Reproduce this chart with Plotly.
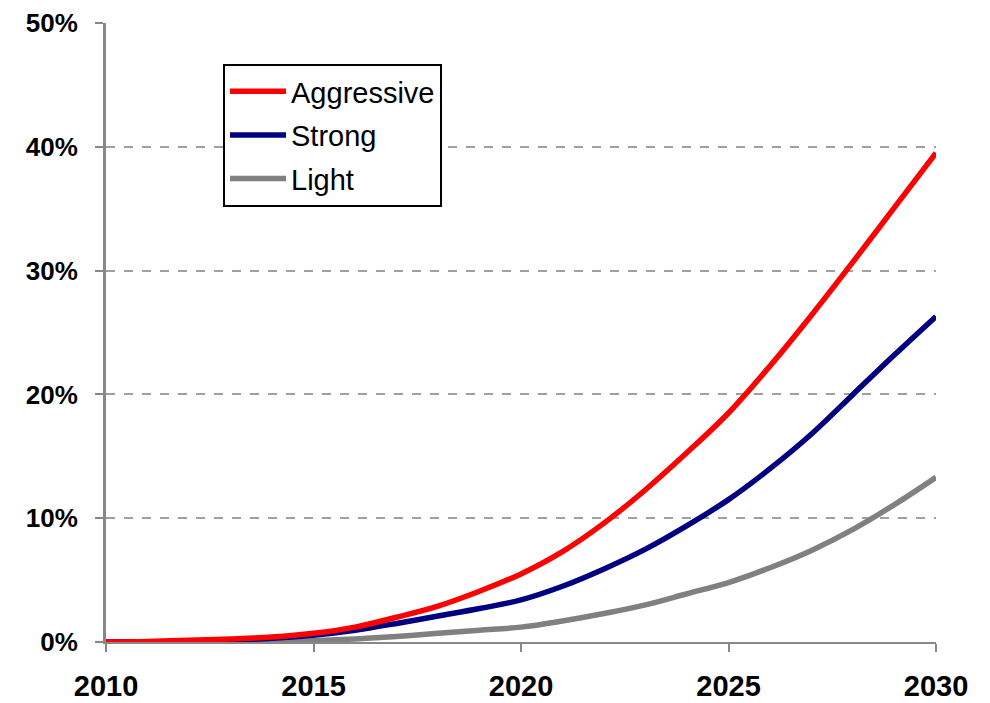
import plotly.graph_objects as go

years = list(range(2010, 2031))
aggressive = [0, 0.05, 0.15, 0.25, 0.4, 0.7, 1.2, 2.0, 2.9, 4.1, 5.5, 7.3, 9.6, 12.3, 15.3, 18.5, 22.3, 26.4, 30.7, 35.1, 39.5]
strong = [0, 0, 0.05, 0.15, 0.3, 0.55, 0.95, 1.5, 2.1, 2.7, 3.4, 4.5, 5.9, 7.5, 9.4, 11.5, 14.0, 16.8, 20.0, 23.2, 26.3]
light = [0, 0, 0, 0, 0, 0.1, 0.25, 0.45, 0.7, 0.95, 1.2, 1.7, 2.3, 3.0, 3.9, 4.8, 6.0, 7.4, 9.1, 11.1, 13.3]

series = [("Aggressive", aggressive, "#ff0000"),
          ("Strong", strong, "#000080"),
          ("Light", light, "#808080")]

y_ticks = [0, 10, 20, 30, 40, 50]
y_labels = ["0%", "10%", "20%", "30%", "40%", "50%"]
x_ticks = [2010, 2015, 2020, 2025, 2030]

fig = go.Figure()
for rank, (name, vals, color) in reversed(list(enumerate(series))):
    fig.add_trace(go.Scatter(x=years, y=vals, mode="lines", name=name,
                             line=dict(color=color, width=5.5, shape="spline"),
                             legendgroup=name, legendrank=rank + 1))

fig.update_layout(
    width=990, height=703,
    margin=dict(l=106, r=54, t=23, b=61),
    paper_bgcolor="white", plot_bgcolor="white",
    showlegend=True,
    legend=dict(x=0.141, y=0.934, xanchor="left", yanchor="top",
                bordercolor="black", borderwidth=2, bgcolor="white",
                font=dict(family="Liberation Sans, Arial", size=29, color="black"),
                traceorder="grouped", tracegroupgap=3,
                itemwidth=56),
    xaxis=dict(range=[2010, 2030], tickvals=x_ticks, ticktext=[str(v) for v in x_ticks],
               showgrid=False, zeroline=False, automargin=False,
               showline=True, linecolor="#888888", linewidth=2,
               ticks="outside", ticklen=8, tickcolor="#888888", tickwidth=2,
               tickfont=dict(family="Liberation Sans, Arial", size=29, color="black", weight="bold"),
               ticklabelstandoff=9),
    yaxis=dict(range=[0, 50], tickvals=y_ticks, ticktext=y_labels,
               showgrid=True, gridcolor="#a0a0a0", griddash="dash", gridwidth=2,
               zeroline=False, automargin=False,
               showline=True, linecolor="#888888", linewidth=3,
               ticks="outside", ticklen=8, tickcolor="#888888", tickwidth=2,
               tickfont=dict(family="Liberation Sans, Arial", size=26, color="black", weight="bold"),
               ticklabelstandoff=12),
)

fig.write_html("out.html")
